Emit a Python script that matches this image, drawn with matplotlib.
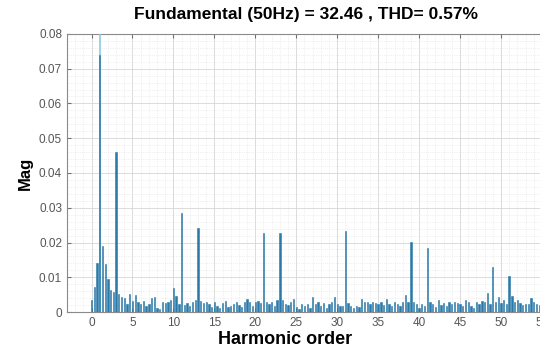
import numpy as np
import matplotlib
matplotlib.use("Agg")
import matplotlib.pyplot as plt
from matplotlib.ticker import MultipleLocator, FuncFormatter

# FFT spectrum, bins every 1/3 harmonic (3 values per harmonic order h: h, h+1/3, h+2/3)
bin_step = 1 / 3
mag = [
    0.0034, 0.0072, 0.0141,   # 0
    0.0738, 0.0190, 0.0139,   # 1
    0.0095, 0.0064, 0.0058,   # 2
    0.0459, 0.0052, 0.0042,   # 3
    0.0040, 0.0024, 0.0053,   # 4
    0.0033, 0.0050, 0.0028,   # 5
    0.0022, 0.0031, 0.0016,   # 6
    0.0024, 0.0040, 0.0043,   # 7
    0.0012, 0.0010, 0.0028,   # 8
    0.0026, 0.0030, 0.0034,   # 9
    0.0069, 0.0045, 0.0024,   # 10
    0.0285, 0.0020, 0.0025,   # 11
    0.0018, 0.0030, 0.0036,   # 12
    0.0243, 0.0032, 0.0026,   # 13
    0.0028, 0.0022, 0.0014,   # 14
    0.0030, 0.0018, 0.0012,   # 15
    0.0026, 0.0032, 0.0014,   # 16
    0.0016, 0.0024, 0.0030,   # 17
    0.0020, 0.0014, 0.0028,   # 18
    0.0038, 0.0030, 0.0016,   # 19
    0.0030, 0.0032, 0.0026,   # 20
    0.0228, 0.0030, 0.0022,   # 21
    0.0028, 0.0018, 0.0034,   # 22
    0.0228, 0.0036, 0.0024,   # 23
    0.0020, 0.0028, 0.0037,   # 24
    0.0014, 0.0010, 0.0022,   # 25
    0.0018, 0.0024, 0.0012,   # 26
    0.0044, 0.0022, 0.0030,   # 27
    0.0016, 0.0026, 0.0012,   # 28
    0.0022, 0.0028, 0.0043,   # 29
    0.0024, 0.0018, 0.0016,   # 30
    0.0234, 0.0026, 0.0018,   # 31
    0.0012, 0.0016, 0.0014,   # 32
    0.0037, 0.0030, 0.0028,   # 33
    0.0024, 0.0030, 0.0026,   # 34
    0.0022, 0.0030, 0.0020,   # 35
    0.0037, 0.0024, 0.0018,   # 36
    0.0030, 0.0022, 0.0016,   # 37
    0.0028, 0.0048, 0.0030,   # 38
    0.0201, 0.0028, 0.0022,   # 39
    0.0012, 0.0024, 0.0016,   # 40
    0.0185, 0.0030, 0.0022,   # 41
    0.0014, 0.0034, 0.0020,   # 42
    0.0026, 0.0016, 0.0030,   # 43
    0.0022, 0.0030, 0.0026,   # 44
    0.0024, 0.0018, 0.0034,   # 45
    0.0028, 0.0016, 0.0012,   # 46
    0.0030, 0.0024, 0.0032,   # 47
    0.0028, 0.0056, 0.0024,   # 48
    0.0131, 0.0030, 0.0044,   # 49
    0.0026, 0.0036, 0.0022,   # 50
    0.0103, 0.0046, 0.0030,   # 51
    0.0034, 0.0026, 0.0020,   # 52
    0.0022, 0.0024, 0.0040,   # 53
    0.0028, 0.0022, 0.0020,   # 54
    0.0030, 0.0024, 0.0018,   # 55
    0.0026, 0.0020, 0.0016,   # 56
    0.0022, 0.0018, 0.0014,   # 57
]
orders = np.arange(len(mag)) * bin_step

# fundamental, off the scale
fund_order = 1
fund_mag = 1.0
fund_hz = 50
fund_value = 32.46
thd = 0.57

plt.rcParams["font.family"] = ["Liberation Sans", "DejaVu Sans"]

fig = plt.figure(figsize=(5.4, 3.53), dpi=100)
ax = fig.add_axes([0.124, 0.116, 0.925, 0.788])

ax.bar(fund_order, fund_mag, width=-0.14, align="edge", color="#86c8e3",
       edgecolor="#86c8e3", linewidth=0.4, zorder=3)
ax.bar(orders, mag, width=0.16, color="#2b79a8", edgecolor="#2b79a8",
       linewidth=0.4, zorder=3)

ax.set_xlim(-3, 58)
ax.set_ylim(0, 0.08)
ax.xaxis.set_major_locator(MultipleLocator(5))
ax.xaxis.set_minor_locator(MultipleLocator(1))
ax.yaxis.set_major_locator(MultipleLocator(0.01))
ax.yaxis.set_minor_locator(MultipleLocator(0.002))
ax.yaxis.set_major_formatter(FuncFormatter(lambda v, p: "0" if abs(v) < 1e-9 else "%.2f" % v))

ax.grid(which="major", color="#d6d6d6", linewidth=0.6, linestyle="-", zorder=0)
ax.grid(which="minor", color="#e2e2e2", linewidth=0.5, linestyle=":", zorder=0)
ax.set_axisbelow(True)

ax.tick_params(which="both", direction="in", top=True, right=True,
               colors="#707070", labelcolor="#555555", labelsize=8.5)
ax.tick_params(which="major", length=3)
ax.tick_params(which="minor", length=0)
for s in ax.spines.values():
    s.set_color("#8a8a8a")
    s.set_linewidth(0.8)

fig.text(306 / 540, 0.958,
         "Fundamental (%dHz) = %.2f , THD= %.2f%%" % (fund_hz, fund_value, thd),
         ha="center", va="center", fontsize=12.5, fontweight="bold")
fig.text(285 / 540, 0.037, "Harmonic order", ha="center", va="center",
         fontsize=13, fontweight="bold")
fig.text(25 / 540, 0.51, "Mag", ha="center", va="center", rotation=90,
         fontsize=12, fontweight="bold")

fig.savefig("out.png", dpi=100)
